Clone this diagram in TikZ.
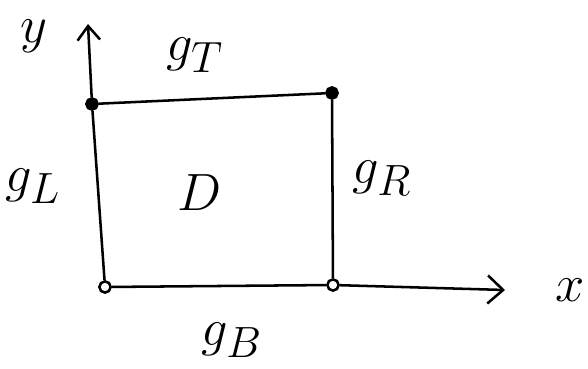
\documentclass[tikz,border=0pt]{standalone}
\usepackage{amsmath,amssymb}
\usetikzlibrary{positioning, arrows.meta, calc}
\tikzset{
    corner/.style={circle, draw, line width=1.8pt, inner sep=0pt, minimum size=8pt},
    lbl/.style={font=\Huge, scale=1.5},
    edge/.style={line width=1.8pt}
}

\begin{document}
\begin{tikzpicture}[x=0.025cm, y=-0.025cm]
    \useasboundingbox (0,0) rectangle (588,369);

    % Corners of the domain
    \node[corner] (bl) at (105, 287) {};
    \node[corner] (br) at (333, 285) {};
    \node[corner, fill=black] (tl) at (92, 104) {};
    \node[corner, fill=black] (tr) at (332, 93) {};
    \coordinate (xend) at (505, 290);
    \coordinate (yend) at (88, 24);

    % Axes
    \draw[edge, ->, >={Straight Barb[length=11pt, width=20pt]}] (br) -- (xend);
    \draw[edge, ->, >={Straight Barb[length=10pt, width=16pt]}] (tl) -- (yend);

    % Boundary
    \draw[edge] (tl) -- (tr);
    \draw[edge] (tr) -- (br);
    \draw[edge] (bl) -- (br);
    \draw[edge] (bl) -- (tl);

    % Labels
    \node[lbl] (ly) at (34, 36) {$y$};
    \node[lbl] (lx) at (570, 290) {$x$};
    \node[lbl] (gT) at (195, 55) {$g_{\scriptstyle T}$};
    \node[lbl] (gL) at (33, 186) {$g_{\scriptstyle L}$};
    \node[lbl] (gR) at (382, 178) {$g_{\scriptstyle R}$};
    \node[lbl] (gB) at (232, 340) {$g_{\scriptstyle B}$};
    \node[lbl] (dom) at (200, 193) {$D$};
\end{tikzpicture}
\end{document}
